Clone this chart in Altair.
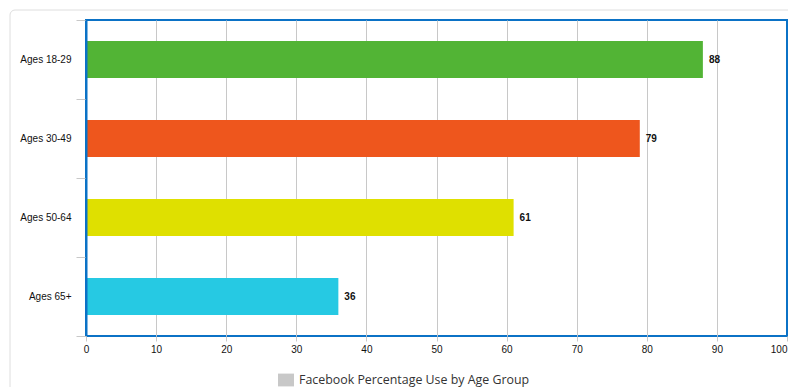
import altair as alt
import pandas as pd

groups = ["Ages 18-29", "Ages 30-49", "Ages 50-64", "Ages 65+"]
values = [88, 79, 61, 36]
colors = ["#52b435", "#ee561d", "#dfe000", "#26c9e3"]
series_name = "Facebook Percentage Use by Age Group"
x_ticks = [0, 10, 20, 30, 40, 50, 60, 70, 80, 90, 100]

df = pd.DataFrame({"group": groups, "value": values, "series": [series_name] * len(groups)})

FONT = "Liberation Sans"
BORDER = "#0b72c6"

y_enc = alt.Y(
    "group:N",
    sort=groups,
    title=None,
    scale=alt.Scale(paddingInner=0, paddingOuter=0),
    axis=alt.Axis(
        tickBand="extent", tickSize=10, tickColor="#c8c8c8", domain=False, grid=False,
        labelFont=FONT, labelFontSize=10, labelColor="#111111", labelPadding=5,
    ),
)
x_enc = alt.X(
    "value:Q",
    title=None,
    scale=alt.Scale(domain=[0, 100], nice=False),
    axis=alt.Axis(
        values=x_ticks, grid=True, gridColor="#c8c8c8",
        gridOpacity=alt.expr("datum.value == 0 || datum.value == 100 ? 0 : 1"),
        tickSize=5, tickColor="#c8c8c8", domain=False,
        labelFont=FONT, labelFontSize=10, labelColor="#111111", labelPadding=3,
        labelFlush=False,
        labelAlign=alt.expr("datum.value == 100 ? 'right' : 'center'"),
    ),
)

card = alt.Chart(alt.Data(values=[{}])).mark_rect(
    fill=None, stroke="#dedede", strokeWidth=1, cornerRadius=5
).encode(x=alt.value(-76), x2=alt.value(820), y=alt.value(-10), y2=alt.value(420))

bars = alt.Chart(df).mark_bar(height=alt.RelativeBandSize(0.47)).encode(
    x=x_enc,
    y=y_enc,
    color=alt.Color("group:N", scale=alt.Scale(domain=groups, range=colors), legend=None),
)

labels = alt.Chart(df).mark_text(
    align="left", baseline="middle", dx=6, font=FONT, fontSize=10, fontWeight="bold", color="#111111"
).encode(x="value:Q", y=alt.Y("group:N", sort=groups), text="value:Q")

left_edge = alt.Chart(alt.Data(values=[{}])).mark_rule(color=BORDER, strokeWidth=2).encode(
    x=alt.value(0.5), y=alt.value(0), y2=alt.value(316)
)

legend_layer = alt.Chart(df).mark_square(opacity=0).encode(
    x="value:Q",
    y=alt.Y("group:N", sort=groups),
    fill=alt.Fill(
        "series:N",
        scale=alt.Scale(range=["#c8c8c8"]),
        legend=alt.Legend(
            title=None, orient="none", legendX=192, legendY=352,
            symbolType="M-1,-0.8H1V0.8H-1Z", symbolSize=256, symbolOpacity=1,
            symbolStrokeWidth=0, symbolFillColor="#c8c8c8",
            labelFont="Open Sans", labelFontSize=12.4, labelColor="#333333", labelOffset=5,
            labelLimit=400, padding=0,
        ),
    ),
)

chart = alt.layer(card, bars, labels, left_edge, legend_layer).properties(
    width=701, height=316,
    padding={"left": 78, "top": 12, "right": 1, "bottom": 56},
    autosize=alt.AutoSizeParams(type="none"),
    background="white",
).configure_view(
    stroke=BORDER, strokeWidth=2, fill="white"
)

chart.save("out.html", embed_options={"renderer": "svg", "actions": False})
